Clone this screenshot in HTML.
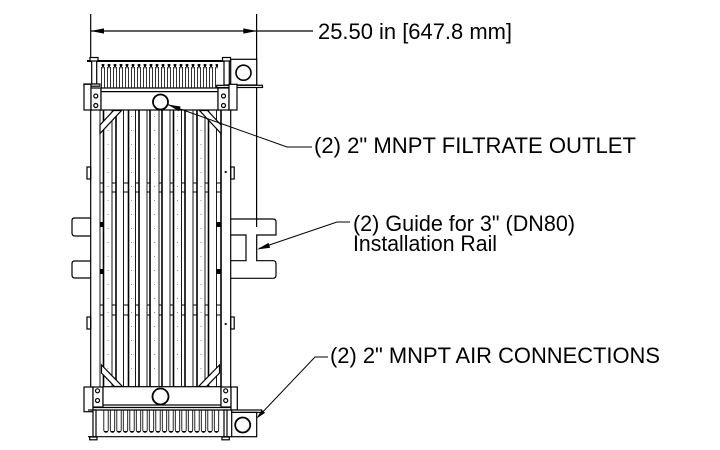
<!DOCTYPE html>
<html>
<head>
<meta charset="utf-8">
<style>
  html,body{margin:0;padding:0;background:#fff;}
  svg{display:block;}
  text{font-family:"Liberation Sans",Arial,sans-serif;font-size:22px;fill:#000;}
</style>
</head>
<body>
<svg width="720" height="450" viewBox="0 0 720 450" xmlns="http://www.w3.org/2000/svg">
  <defs>
    <pattern id="tt" patternUnits="userSpaceOnUse" x="101" y="62" width="6" height="27">
      <line x1="0.6" y1="5" x2="0.6" y2="27" stroke="#000" stroke-width="0.8"/>
      <line x1="3.4" y1="5" x2="3.4" y2="27" stroke="#000" stroke-width="0.8"/>
      <path d="M0.3,2.5 Q2,1.5 3.7,2.5 L2,7 Z" fill="#000"/>
    </pattern>
    <pattern id="bt" patternUnits="userSpaceOnUse" x="103" y="410" width="6.5" height="27">
      <path d="M0.8,0 V20 a2.2,2.2 0 0 0 4.4,0 V0" fill="none" stroke="#000" stroke-width="0.85"/>
      <path d="M1.3,21 a1.7,1.7 0 0 0 3.4,0 Z" fill="#000"/>
    </pattern>
  </defs>
  <rect width="720" height="450" fill="#fff"/>

  <!-- dimension -->
  <g stroke="#000" stroke-width="1.2" fill="none">
    <line x1="90.7" y1="14" x2="90.7" y2="60"/>
    <line x1="256.6" y1="14" x2="256.6" y2="227"/>
    <line x1="91" y1="31" x2="313" y2="31"/>
  </g>
  <polygon points="90.7,31 104,28.4 104,33.6" fill="#000"/>
  <polygon points="256.6,31 243.3,28.4 243.3,33.6" fill="#000"/>

  <!-- top tubes -->
  <rect x="100" y="62" width="118" height="26" fill="url(#tt)"/>
  <!-- bottom hairpins -->
  <rect x="103" y="410" width="117" height="26" fill="url(#bt)"/>

  <g stroke="#000" fill="none" stroke-width="1.2">
    <!-- top manifold line -->
    <line x1="87" y1="61" x2="231" y2="61" stroke-width="2"/>
    <!-- posts -->
    <rect x="91.7" y="60" width="5" height="24" fill="#fff"/>
    <rect x="90" y="57.5" width="8" height="3.5" fill="#fff"/>
    <rect x="224" y="60" width="5.3" height="25" fill="#fff"/>
    <rect x="222.5" y="57.5" width="8" height="3.5" fill="#fff"/>
    <!-- top air box -->
    <rect x="230.7" y="59.3" width="26" height="25.7" fill="#fff"/>
    <circle cx="243.5" cy="72.7" r="7.5" stroke-width="1.6"/>
    <rect x="216.7" y="85.3" width="45.8" height="2.2" fill="#fff"/>
    <rect x="84" y="84" width="16" height="2.2" fill="#fff"/>

    <!-- top beam -->
    <rect x="84" y="84.3" width="7" height="25.7" fill="#fff"/>
    <rect x="91" y="88" width="10" height="22" fill="#fff"/>
    <circle cx="95.8" cy="96" r="2"/>
    <circle cx="95.8" cy="105.5" r="2"/>
    <rect x="101" y="88" width="117" height="22" fill="#fff"/>
    <line x1="101" y1="91.6" x2="218" y2="91.6"/>
    <rect x="218" y="88" width="11" height="22" fill="#fff"/>
    <circle cx="223.5" cy="96" r="2"/>
    <circle cx="223.5" cy="105.5" r="2"/>
    <rect x="229" y="84.3" width="8" height="25.7" fill="#fff"/>
    <circle cx="160.5" cy="102" r="7.5" stroke-width="1.8"/>

    <!-- frame outer lines -->
    <line x1="90.7" y1="110" x2="90.7" y2="387"/>
    <line x1="230.7" y1="110" x2="230.7" y2="387"/>

    <!-- main tubes -->
    <g stroke-width="0.9">
      <line x1="100" y1="110" x2="100" y2="387"/>
      <line x1="112" y1="110" x2="112" y2="387"/>
      <line x1="123.5" y1="110" x2="123.5" y2="387"/>
      <line x1="135.5" y1="110" x2="135.5" y2="387"/>
      <line x1="147" y1="110" x2="147" y2="387"/>
      <line x1="159" y1="110" x2="159" y2="387"/>
      <line x1="170" y1="110" x2="170" y2="387"/>
      <line x1="181.5" y1="110" x2="181.5" y2="387"/>
      <line x1="193" y1="110" x2="193" y2="387"/>
      <line x1="205" y1="110" x2="205" y2="387"/>
      <line x1="216.5" y1="110" x2="216.5" y2="387"/>
    </g>
    <g stroke-width="1.6">
      <line x1="103.5" y1="110" x2="103.5" y2="387"/>
      <line x1="116" y1="110" x2="116" y2="387"/>
      <line x1="128.5" y1="110" x2="128.5" y2="387"/>
      <line x1="139" y1="110" x2="139" y2="387"/>
      <line x1="150" y1="110" x2="150" y2="387"/>
      <line x1="162" y1="110" x2="162" y2="387"/>
      <line x1="173.5" y1="110" x2="173.5" y2="387"/>
      <line x1="185" y1="110" x2="185" y2="387"/>
      <line x1="197" y1="110" x2="197" y2="387"/>
      <line x1="208.5" y1="110" x2="208.5" y2="387"/>
      <line x1="221" y1="110" x2="221" y2="387"/>
    </g>
    <!-- dotted centers -->
    <g stroke-width="0.8" stroke-dasharray="1 13" stroke="#777">
      <line x1="108" y1="116" x2="108" y2="380"/>
      <line x1="131.5" y1="116" x2="131.5" y2="380"/>
      <line x1="154.5" y1="116" x2="154.5" y2="380"/>
      <line x1="177.5" y1="116" x2="177.5" y2="380"/>
      <line x1="201" y1="116" x2="201" y2="380"/>
    </g>
    <!-- band breaks -->
    <g stroke-width="1">
      <path d="M100,183H103.5M112,183H116M123.5,183H128.5M135.5,183H139M147,183H150M159,183H162M170,183H173.5M181.5,183H185M193,183H197M205,183H208.5M216.5,183H221"/>
      <path d="M100,192H103.5M112,192H116M123.5,192H128.5M135.5,192H139M147,192H150M159,192H162M170,192H173.5M181.5,192H185M193,192H197M205,192H208.5M216.5,192H221"/>
      <path d="M100,305H103.5M112,305H116M123.5,305H128.5M135.5,305H139M147,305H150M159,305H162M170,305H173.5M181.5,305H185M193,305H197M205,305H208.5M216.5,305H221"/>
      <path d="M100,315H103.5M112,315H116M123.5,315H128.5M135.5,315H139M147,315H150M159,315H162M170,315H173.5M181.5,315H185M193,315H197M205,315H208.5M216.5,315H221"/>
    </g>

    <!-- braces -->
    <polygon points="100,125 113.5,110.5 121.5,110.5 100,133.5" fill="#fff"/>
    <polygon points="221,125 207.5,110.5 199.5,110.5 221,133.5" fill="#fff"/>
    <polygon points="101.5,365 122.5,386.5 114.5,386.5 101.5,373" fill="#fff"/>
    <polygon points="219.5,365 198.5,386.5 206.5,386.5 219.5,373" fill="#fff"/>

    <!-- side tabs -->
    <rect x="87" y="167" width="3.7" height="12"/>
    <rect x="230.7" y="167" width="3.5" height="12"/>
    <rect x="87" y="317" width="3.7" height="12"/>
    <rect x="230.7" y="317" width="3.5" height="12"/>

    <!-- left guide tabs -->
    <path d="M90.7,218H74.5Q72,218 72,220.5V233Q72,236 75,236H90.7"/>
    <path d="M90.7,261H74.5Q72,261 72,263.5V275Q72,278 75,278H90.7"/>

    <!-- right H guide -->
    <path d="M230.7,219H273Q276,219 276,222V235H256.7V260.7H273Q276,260.7 276,263.7V275.3Q276,278.3 273,278.3H230.7"/>
    <path d="M230.7,235H246V260.7H230.7"/>

    <!-- bottom beam -->
    <rect x="84" y="387" width="9" height="24.7" fill="#fff"/>
    <rect x="93" y="387" width="10" height="20" fill="#fff"/>
    <circle cx="97.5" cy="390.8" r="2"/>
    <circle cx="97.5" cy="400.5" r="2"/>
    <rect x="103" y="386.7" width="118" height="18.3" fill="#fff"/>
    <rect x="221" y="387" width="10" height="20" fill="#fff"/>
    <circle cx="225.7" cy="390.8" r="2"/>
    <circle cx="225.7" cy="400.5" r="2"/>
    <rect x="231" y="387" width="6.3" height="23" fill="#fff"/>
    <line x1="93" y1="407.5" x2="231" y2="407.5"/>
    <line x1="88" y1="410" x2="232" y2="410"/>
    <circle cx="160.5" cy="396.5" r="8" stroke-width="1.8"/>

    <!-- bottom posts -->
    <rect x="93" y="410" width="3" height="27" fill="#fff"/>
    <rect x="89.7" y="437" width="7.3" height="2.8" fill="#fff"/>
    <rect x="224" y="410" width="3" height="27" fill="#fff"/>
    <rect x="222" y="437" width="7.3" height="2.8" fill="#fff"/>
    <line x1="88" y1="436.7" x2="232" y2="436.7"/>

    <!-- bottom air box -->
    <rect x="231.7" y="410" width="30" height="2.4" fill="#fff"/>
    <rect x="231.7" y="412.4" width="25" height="24.3" fill="#fff"/>
    <circle cx="242.7" cy="425" r="7.5" stroke-width="1.8"/>

    <!-- leaders -->
    <polyline points="167.6,104.5 287,147 312,147" stroke-width="1"/>
    <polyline points="350,222 337,222 259,248.5" stroke-width="1"/>
    <polyline points="328,357 315,357 258,417" stroke-width="1"/>
  </g>

  <!-- small black squares -->
  <g fill="#000">
    <rect x="100" y="222" width="4" height="5"/>
    <rect x="100" y="269" width="4" height="5"/>
    <rect x="216.5" y="222" width="4" height="5"/>
    <rect x="216.5" y="269" width="4" height="5"/>
    <circle cx="225.7" cy="172" r="1.1"/>
    <circle cx="225.7" cy="324" r="1.1"/>
  </g>

  <!-- arrowheads -->
  <polygon points="167.6,104.5 180.6,106.5 179,111.3" fill="#000"/>
  <polygon points="257,249.5 270.1,247.7 268.5,242.9" fill="#000"/>
  <polygon points="256.5,418.5 265.1,412.9 261.7,409.7" fill="#000"/>

  <!-- labels -->
  <text x="318" y="39" textLength="194" lengthAdjust="spacingAndGlyphs">25.50 in [647.8 mm]</text>
  <text x="314" y="153" textLength="322" lengthAdjust="spacingAndGlyphs">(2) 2&quot; MNPT FILTRATE OUTLET</text>
  <text x="353" y="231" textLength="222" lengthAdjust="spacingAndGlyphs">(2) Guide for 3&quot; (DN80)</text>
  <text x="353" y="251" textLength="144" lengthAdjust="spacingAndGlyphs">Installation Rail</text>
  <text x="330" y="363" textLength="330" lengthAdjust="spacingAndGlyphs">(2) 2&quot; MNPT AIR CONNECTIONS</text>
</svg>
</body>
</html>
